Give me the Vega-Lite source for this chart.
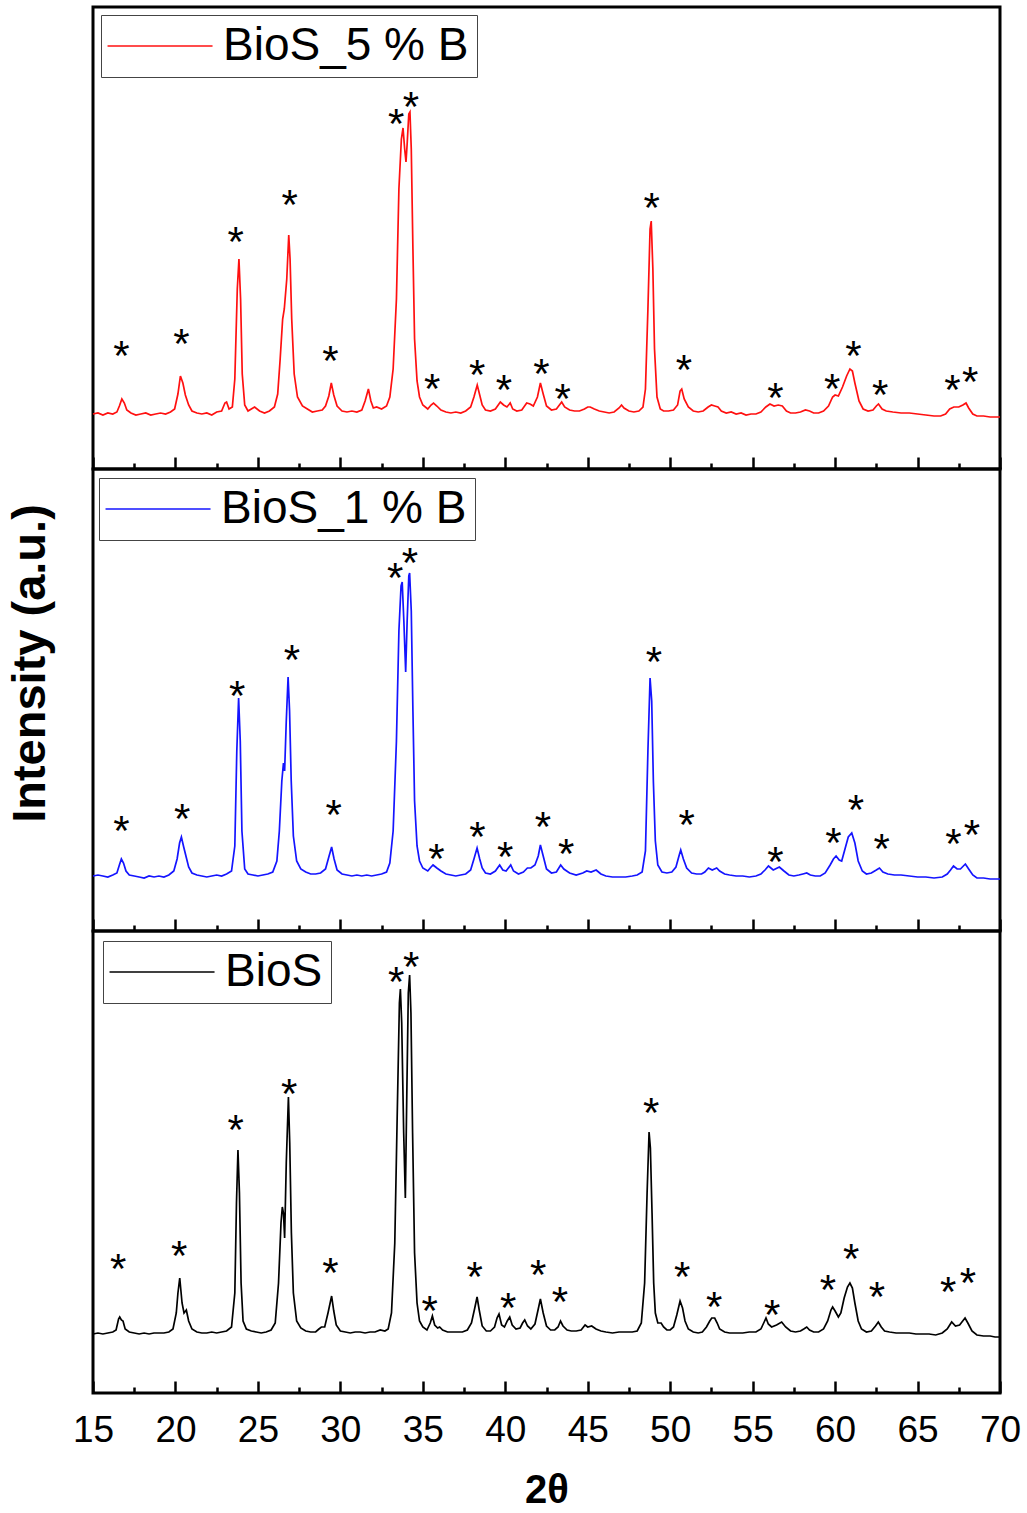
{
  "$schema": "https://vega.github.io/schema/vega-lite/v6.json",
  "background": "white",
  "padding": {"left": 4, "top": 5, "right": 0, "bottom": 0},
  "config": {
    "font": "Liberation Sans",
    "view": {"stroke": "black", "strokeWidth": 3},
    "axis": {"grid": false, "domain": false}
  },
  "columns": 1,
  "spacing": 0,
  "bounds": "flush",
  "align": {"row": "none", "column": "each"},
  "resolve": {"scale": {"color": "independent"}},
  "datasets": {
    "red": [
      {"sample":"BioS_5 % B","angle":15.0,"int":55},{"sample":"BioS_5 % B","angle":15.3,"int":56},{"sample":"BioS_5 % B","angle":15.6,"int":54},{"sample":"BioS_5 % B","angle":15.9,"int":56},{"sample":"BioS_5 % B","angle":16.2,"int":55},{"sample":"BioS_5 % B","angle":16.45,"int":57},{"sample":"BioS_5 % B","angle":16.6,"int":63},{"sample":"BioS_5 % B","angle":16.75,"int":70},{"sample":"BioS_5 % B","angle":16.9,"int":66},{"sample":"BioS_5 % B","angle":17.05,"int":59},{"sample":"BioS_5 % B","angle":17.3,"int":56},{"sample":"BioS_5 % B","angle":17.6,"int":54},{"sample":"BioS_5 % B","angle":17.9,"int":55},{"sample":"BioS_5 % B","angle":18.2,"int":56},{"sample":"BioS_5 % B","angle":18.5,"int":54},{"sample":"BioS_5 % B","angle":18.8,"int":55},{"sample":"BioS_5 % B","angle":19.1,"int":56},{"sample":"BioS_5 % B","angle":19.4,"int":55},{"sample":"BioS_5 % B","angle":19.7,"int":57},{"sample":"BioS_5 % B","angle":19.95,"int":60},{"sample":"BioS_5 % B","angle":20.15,"int":75},{"sample":"BioS_5 % B","angle":20.3,"int":93},{"sample":"BioS_5 % B","angle":20.45,"int":86},{"sample":"BioS_5 % B","angle":20.6,"int":74},{"sample":"BioS_5 % B","angle":20.8,"int":64},{"sample":"BioS_5 % B","angle":21.0,"int":58},{"sample":"BioS_5 % B","angle":21.3,"int":56},{"sample":"BioS_5 % B","angle":21.6,"int":55},{"sample":"BioS_5 % B","angle":21.9,"int":56},{"sample":"BioS_5 % B","angle":22.2,"int":54},{"sample":"BioS_5 % B","angle":22.5,"int":57},{"sample":"BioS_5 % B","angle":22.8,"int":58},{"sample":"BioS_5 % B","angle":23.0,"int":66},{"sample":"BioS_5 % B","angle":23.1,"int":67},{"sample":"BioS_5 % B","angle":23.25,"int":60},{"sample":"BioS_5 % B","angle":23.45,"int":62},{"sample":"BioS_5 % B","angle":23.6,"int":90},{"sample":"BioS_5 % B","angle":23.75,"int":180},{"sample":"BioS_5 % B","angle":23.85,"int":210},{"sample":"BioS_5 % B","angle":23.95,"int":170},{"sample":"BioS_5 % B","angle":24.05,"int":95},{"sample":"BioS_5 % B","angle":24.2,"int":64},{"sample":"BioS_5 % B","angle":24.4,"int":58},{"sample":"BioS_5 % B","angle":24.6,"int":60},{"sample":"BioS_5 % B","angle":24.8,"int":62},{"sample":"BioS_5 % B","angle":25.1,"int":58},{"sample":"BioS_5 % B","angle":25.4,"int":56},{"sample":"BioS_5 % B","angle":25.7,"int":58},{"sample":"BioS_5 % B","angle":26.0,"int":62},{"sample":"BioS_5 % B","angle":26.2,"int":75},{"sample":"BioS_5 % B","angle":26.35,"int":110},{"sample":"BioS_5 % B","angle":26.5,"int":150},{"sample":"BioS_5 % B","angle":26.6,"int":160},{"sample":"BioS_5 % B","angle":26.75,"int":190},{"sample":"BioS_5 % B","angle":26.87,"int":234},{"sample":"BioS_5 % B","angle":26.95,"int":210},{"sample":"BioS_5 % B","angle":27.05,"int":150},{"sample":"BioS_5 % B","angle":27.2,"int":95},{"sample":"BioS_5 % B","angle":27.4,"int":72},{"sample":"BioS_5 % B","angle":27.7,"int":63},{"sample":"BioS_5 % B","angle":28.0,"int":60},{"sample":"BioS_5 % B","angle":28.3,"int":57},{"sample":"BioS_5 % B","angle":28.6,"int":58},{"sample":"BioS_5 % B","angle":28.9,"int":59},{"sample":"BioS_5 % B","angle":29.1,"int":63},{"sample":"BioS_5 % B","angle":29.3,"int":73},{"sample":"BioS_5 % B","angle":29.45,"int":86},{"sample":"BioS_5 % B","angle":29.6,"int":74},{"sample":"BioS_5 % B","angle":29.8,"int":63},{"sample":"BioS_5 % B","angle":30.1,"int":58},{"sample":"BioS_5 % B","angle":30.4,"int":57},{"sample":"BioS_5 % B","angle":30.7,"int":58},{"sample":"BioS_5 % B","angle":31.0,"int":57},{"sample":"BioS_5 % B","angle":31.3,"int":59},{"sample":"BioS_5 % B","angle":31.5,"int":68},{"sample":"BioS_5 % B","angle":31.7,"int":80},{"sample":"BioS_5 % B","angle":31.85,"int":68},{"sample":"BioS_5 % B","angle":32.0,"int":61},{"sample":"BioS_5 % B","angle":32.2,"int":62},{"sample":"BioS_5 % B","angle":32.5,"int":60},{"sample":"BioS_5 % B","angle":32.8,"int":63},{"sample":"BioS_5 % B","angle":33.0,"int":72},{"sample":"BioS_5 % B","angle":33.2,"int":100},{"sample":"BioS_5 % B","angle":33.4,"int":170},{"sample":"BioS_5 % B","angle":33.55,"int":280},{"sample":"BioS_5 % B","angle":33.7,"int":330},{"sample":"BioS_5 % B","angle":33.8,"int":341},{"sample":"BioS_5 % B","angle":33.9,"int":320},{"sample":"BioS_5 % B","angle":33.98,"int":307},{"sample":"BioS_5 % B","angle":34.05,"int":325},{"sample":"BioS_5 % B","angle":34.15,"int":355},{"sample":"BioS_5 % B","angle":34.22,"int":357},{"sample":"BioS_5 % B","angle":34.3,"int":320},{"sample":"BioS_5 % B","angle":34.4,"int":220},{"sample":"BioS_5 % B","angle":34.5,"int":130},{"sample":"BioS_5 % B","angle":34.65,"int":88},{"sample":"BioS_5 % B","angle":34.8,"int":72},{"sample":"BioS_5 % B","angle":35.0,"int":64},{"sample":"BioS_5 % B","angle":35.3,"int":60},{"sample":"BioS_5 % B","angle":35.5,"int":64},{"sample":"BioS_5 % B","angle":35.65,"int":66},{"sample":"BioS_5 % B","angle":35.85,"int":63},{"sample":"BioS_5 % B","angle":36.1,"int":59},{"sample":"BioS_5 % B","angle":36.4,"int":57},{"sample":"BioS_5 % B","angle":36.7,"int":56},{"sample":"BioS_5 % B","angle":37.0,"int":57},{"sample":"BioS_5 % B","angle":37.3,"int":56},{"sample":"BioS_5 % B","angle":37.6,"int":58},{"sample":"BioS_5 % B","angle":37.9,"int":62},{"sample":"BioS_5 % B","angle":38.1,"int":72},{"sample":"BioS_5 % B","angle":38.3,"int":84},{"sample":"BioS_5 % B","angle":38.45,"int":74},{"sample":"BioS_5 % B","angle":38.6,"int":64},{"sample":"BioS_5 % B","angle":38.8,"int":59},{"sample":"BioS_5 % B","angle":39.1,"int":58},{"sample":"BioS_5 % B","angle":39.4,"int":60},{"sample":"BioS_5 % B","angle":39.7,"int":67},{"sample":"BioS_5 % B","angle":39.9,"int":64},{"sample":"BioS_5 % B","angle":40.1,"int":62},{"sample":"BioS_5 % B","angle":40.3,"int":66},{"sample":"BioS_5 % B","angle":40.45,"int":60},{"sample":"BioS_5 % B","angle":40.7,"int":58},{"sample":"BioS_5 % B","angle":41.0,"int":59},{"sample":"BioS_5 % B","angle":41.3,"int":66},{"sample":"BioS_5 % B","angle":41.5,"int":65},{"sample":"BioS_5 % B","angle":41.7,"int":63},{"sample":"BioS_5 % B","angle":41.95,"int":72},{"sample":"BioS_5 % B","angle":42.13,"int":86},{"sample":"BioS_5 % B","angle":42.3,"int":75},{"sample":"BioS_5 % B","angle":42.5,"int":63},{"sample":"BioS_5 % B","angle":42.8,"int":59},{"sample":"BioS_5 % B","angle":43.1,"int":60},{"sample":"BioS_5 % B","angle":43.42,"int":67},{"sample":"BioS_5 % B","angle":43.6,"int":62},{"sample":"BioS_5 % B","angle":43.9,"int":59},{"sample":"BioS_5 % B","angle":44.2,"int":58},{"sample":"BioS_5 % B","angle":44.5,"int":58},{"sample":"BioS_5 % B","angle":44.8,"int":60},{"sample":"BioS_5 % B","angle":45.0,"int":62},{"sample":"BioS_5 % B","angle":45.15,"int":62},{"sample":"BioS_5 % B","angle":45.4,"int":60},{"sample":"BioS_5 % B","angle":45.7,"int":58},{"sample":"BioS_5 % B","angle":46.0,"int":57},{"sample":"BioS_5 % B","angle":46.3,"int":56},{"sample":"BioS_5 % B","angle":46.6,"int":57},{"sample":"BioS_5 % B","angle":46.9,"int":61},{"sample":"BioS_5 % B","angle":47.05,"int":64},{"sample":"BioS_5 % B","angle":47.2,"int":61},{"sample":"BioS_5 % B","angle":47.5,"int":58},{"sample":"BioS_5 % B","angle":47.8,"int":57},{"sample":"BioS_5 % B","angle":48.1,"int":58},{"sample":"BioS_5 % B","angle":48.35,"int":62},{"sample":"BioS_5 % B","angle":48.5,"int":80},{"sample":"BioS_5 % B","angle":48.65,"int":160},{"sample":"BioS_5 % B","angle":48.78,"int":240},{"sample":"BioS_5 % B","angle":48.85,"int":248},{"sample":"BioS_5 % B","angle":48.95,"int":200},{"sample":"BioS_5 % B","angle":49.05,"int":120},{"sample":"BioS_5 % B","angle":49.2,"int":72},{"sample":"BioS_5 % B","angle":49.4,"int":60},{"sample":"BioS_5 % B","angle":49.6,"int":58},{"sample":"BioS_5 % B","angle":49.9,"int":58},{"sample":"BioS_5 % B","angle":50.2,"int":59},{"sample":"BioS_5 % B","angle":50.45,"int":64},{"sample":"BioS_5 % B","angle":50.6,"int":78},{"sample":"BioS_5 % B","angle":50.7,"int":80},{"sample":"BioS_5 % B","angle":50.85,"int":70},{"sample":"BioS_5 % B","angle":51.1,"int":62},{"sample":"BioS_5 % B","angle":51.4,"int":58},{"sample":"BioS_5 % B","angle":51.7,"int":57},{"sample":"BioS_5 % B","angle":52.0,"int":58},{"sample":"BioS_5 % B","angle":52.3,"int":62},{"sample":"BioS_5 % B","angle":52.5,"int":64},{"sample":"BioS_5 % B","angle":52.7,"int":63},{"sample":"BioS_5 % B","angle":52.9,"int":62},{"sample":"BioS_5 % B","angle":53.1,"int":58},{"sample":"BioS_5 % B","angle":53.4,"int":56},{"sample":"BioS_5 % B","angle":53.7,"int":57},{"sample":"BioS_5 % B","angle":54.0,"int":55},{"sample":"BioS_5 % B","angle":54.3,"int":56},{"sample":"BioS_5 % B","angle":54.6,"int":54},{"sample":"BioS_5 % B","angle":54.9,"int":55},{"sample":"BioS_5 % B","angle":55.2,"int":55},{"sample":"BioS_5 % B","angle":55.5,"int":57},{"sample":"BioS_5 % B","angle":55.8,"int":62},{"sample":"BioS_5 % B","angle":56.05,"int":65},{"sample":"BioS_5 % B","angle":56.3,"int":63},{"sample":"BioS_5 % B","angle":56.55,"int":64},{"sample":"BioS_5 % B","angle":56.8,"int":63},{"sample":"BioS_5 % B","angle":57.05,"int":58},{"sample":"BioS_5 % B","angle":57.3,"int":56},{"sample":"BioS_5 % B","angle":57.6,"int":56},{"sample":"BioS_5 % B","angle":57.9,"int":57},{"sample":"BioS_5 % B","angle":58.2,"int":59},{"sample":"BioS_5 % B","angle":58.45,"int":58},{"sample":"BioS_5 % B","angle":58.7,"int":56},{"sample":"BioS_5 % B","angle":59.0,"int":56},{"sample":"BioS_5 % B","angle":59.3,"int":58},{"sample":"BioS_5 % B","angle":59.6,"int":63},{"sample":"BioS_5 % B","angle":59.85,"int":72},{"sample":"BioS_5 % B","angle":60.0,"int":74},{"sample":"BioS_5 % B","angle":60.2,"int":73},{"sample":"BioS_5 % B","angle":60.45,"int":82},{"sample":"BioS_5 % B","angle":60.7,"int":93},{"sample":"BioS_5 % B","angle":60.9,"int":100},{"sample":"BioS_5 % B","angle":61.05,"int":98},{"sample":"BioS_5 % B","angle":61.2,"int":86},{"sample":"BioS_5 % B","angle":61.45,"int":68},{"sample":"BioS_5 % B","angle":61.7,"int":60},{"sample":"BioS_5 % B","angle":62.0,"int":58},{"sample":"BioS_5 % B","angle":62.3,"int":59},{"sample":"BioS_5 % B","angle":62.5,"int":63},{"sample":"BioS_5 % B","angle":62.63,"int":65},{"sample":"BioS_5 % B","angle":62.85,"int":60},{"sample":"BioS_5 % B","angle":63.1,"int":58},{"sample":"BioS_5 % B","angle":63.5,"int":57},{"sample":"BioS_5 % B","angle":64.0,"int":56},{"sample":"BioS_5 % B","angle":64.5,"int":56},{"sample":"BioS_5 % B","angle":65.0,"int":55},{"sample":"BioS_5 % B","angle":65.5,"int":54},{"sample":"BioS_5 % B","angle":66.0,"int":53},{"sample":"BioS_5 % B","angle":66.4,"int":53},{"sample":"BioS_5 % B","angle":66.7,"int":55},{"sample":"BioS_5 % B","angle":66.95,"int":60},{"sample":"BioS_5 % B","angle":67.2,"int":62},{"sample":"BioS_5 % B","angle":67.5,"int":62},{"sample":"BioS_5 % B","angle":67.75,"int":64},{"sample":"BioS_5 % B","angle":67.94,"int":66},{"sample":"BioS_5 % B","angle":68.1,"int":61},{"sample":"BioS_5 % B","angle":68.35,"int":55},{"sample":"BioS_5 % B","angle":68.6,"int":53},{"sample":"BioS_5 % B","angle":69.0,"int":53},{"sample":"BioS_5 % B","angle":69.4,"int":52},{"sample":"BioS_5 % B","angle":69.7,"int":52},{"sample":"BioS_5 % B","angle":70.0,"int":52}
    ],
    "blue": [
      {"sample":"BioS_1 % B","angle":15.0,"int":55},{"sample":"BioS_1 % B","angle":15.3,"int":56},{"sample":"BioS_1 % B","angle":15.6,"int":55},{"sample":"BioS_1 % B","angle":15.9,"int":54},{"sample":"BioS_1 % B","angle":16.2,"int":56},{"sample":"BioS_1 % B","angle":16.45,"int":58},{"sample":"BioS_1 % B","angle":16.6,"int":66},{"sample":"BioS_1 % B","angle":16.72,"int":72},{"sample":"BioS_1 % B","angle":16.85,"int":68},{"sample":"BioS_1 % B","angle":17.0,"int":60},{"sample":"BioS_1 % B","angle":17.2,"int":56},{"sample":"BioS_1 % B","angle":17.5,"int":55},{"sample":"BioS_1 % B","angle":17.8,"int":54},{"sample":"BioS_1 % B","angle":18.1,"int":53},{"sample":"BioS_1 % B","angle":18.4,"int":55},{"sample":"BioS_1 % B","angle":18.7,"int":54},{"sample":"BioS_1 % B","angle":19.0,"int":55},{"sample":"BioS_1 % B","angle":19.3,"int":54},{"sample":"BioS_1 % B","angle":19.6,"int":56},{"sample":"BioS_1 % B","angle":19.9,"int":60},{"sample":"BioS_1 % B","angle":20.1,"int":72},{"sample":"BioS_1 % B","angle":20.25,"int":88},{"sample":"BioS_1 % B","angle":20.36,"int":94},{"sample":"BioS_1 % B","angle":20.5,"int":84},{"sample":"BioS_1 % B","angle":20.65,"int":74},{"sample":"BioS_1 % B","angle":20.8,"int":64},{"sample":"BioS_1 % B","angle":21.0,"int":58},{"sample":"BioS_1 % B","angle":21.3,"int":56},{"sample":"BioS_1 % B","angle":21.6,"int":55},{"sample":"BioS_1 % B","angle":21.9,"int":54},{"sample":"BioS_1 % B","angle":22.2,"int":55},{"sample":"BioS_1 % B","angle":22.5,"int":56},{"sample":"BioS_1 % B","angle":22.8,"int":55},{"sample":"BioS_1 % B","angle":23.1,"int":57},{"sample":"BioS_1 % B","angle":23.4,"int":60},{"sample":"BioS_1 % B","angle":23.6,"int":85},{"sample":"BioS_1 % B","angle":23.72,"int":180},{"sample":"BioS_1 % B","angle":23.83,"int":233},{"sample":"BioS_1 % B","angle":23.93,"int":190},{"sample":"BioS_1 % B","angle":24.03,"int":100},{"sample":"BioS_1 % B","angle":24.2,"int":62},{"sample":"BioS_1 % B","angle":24.4,"int":57},{"sample":"BioS_1 % B","angle":24.7,"int":56},{"sample":"BioS_1 % B","angle":25.0,"int":55},{"sample":"BioS_1 % B","angle":25.3,"int":56},{"sample":"BioS_1 % B","angle":25.6,"int":57},{"sample":"BioS_1 % B","angle":25.9,"int":59},{"sample":"BioS_1 % B","angle":26.15,"int":70},{"sample":"BioS_1 % B","angle":26.3,"int":100},{"sample":"BioS_1 % B","angle":26.45,"int":150},{"sample":"BioS_1 % B","angle":26.55,"int":168},{"sample":"BioS_1 % B","angle":26.62,"int":160},{"sample":"BioS_1 % B","angle":26.72,"int":210},{"sample":"BioS_1 % B","angle":26.83,"int":254},{"sample":"BioS_1 % B","angle":26.92,"int":220},{"sample":"BioS_1 % B","angle":27.02,"int":150},{"sample":"BioS_1 % B","angle":27.15,"int":95},{"sample":"BioS_1 % B","angle":27.35,"int":70},{"sample":"BioS_1 % B","angle":27.6,"int":62},{"sample":"BioS_1 % B","angle":27.9,"int":59},{"sample":"BioS_1 % B","angle":28.2,"int":57},{"sample":"BioS_1 % B","angle":28.5,"int":57},{"sample":"BioS_1 % B","angle":28.8,"int":58},{"sample":"BioS_1 % B","angle":29.1,"int":62},{"sample":"BioS_1 % B","angle":29.3,"int":74},{"sample":"BioS_1 % B","angle":29.47,"int":84},{"sample":"BioS_1 % B","angle":29.62,"int":72},{"sample":"BioS_1 % B","angle":29.8,"int":61},{"sample":"BioS_1 % B","angle":30.1,"int":57},{"sample":"BioS_1 % B","angle":30.4,"int":56},{"sample":"BioS_1 % B","angle":30.7,"int":55},{"sample":"BioS_1 % B","angle":31.0,"int":56},{"sample":"BioS_1 % B","angle":31.3,"int":55},{"sample":"BioS_1 % B","angle":31.6,"int":56},{"sample":"BioS_1 % B","angle":31.9,"int":55},{"sample":"BioS_1 % B","angle":32.2,"int":56},{"sample":"BioS_1 % B","angle":32.5,"int":57},{"sample":"BioS_1 % B","angle":32.8,"int":59},{"sample":"BioS_1 % B","angle":33.0,"int":68},{"sample":"BioS_1 % B","angle":33.2,"int":100},{"sample":"BioS_1 % B","angle":33.4,"int":190},{"sample":"BioS_1 % B","angle":33.55,"int":300},{"sample":"BioS_1 % B","angle":33.68,"int":345},{"sample":"BioS_1 % B","angle":33.75,"int":349},{"sample":"BioS_1 % B","angle":33.85,"int":310},{"sample":"BioS_1 % B","angle":33.96,"int":259},{"sample":"BioS_1 % B","angle":34.05,"int":310},{"sample":"BioS_1 % B","angle":34.15,"int":355},{"sample":"BioS_1 % B","angle":34.2,"int":358},{"sample":"BioS_1 % B","angle":34.3,"int":320},{"sample":"BioS_1 % B","angle":34.4,"int":220},{"sample":"BioS_1 % B","angle":34.5,"int":130},{"sample":"BioS_1 % B","angle":34.65,"int":85},{"sample":"BioS_1 % B","angle":34.8,"int":70},{"sample":"BioS_1 % B","angle":35.0,"int":63},{"sample":"BioS_1 % B","angle":35.3,"int":60},{"sample":"BioS_1 % B","angle":35.5,"int":64},{"sample":"BioS_1 % B","angle":35.62,"int":66},{"sample":"BioS_1 % B","angle":35.85,"int":63},{"sample":"BioS_1 % B","angle":36.1,"int":60},{"sample":"BioS_1 % B","angle":36.4,"int":57},{"sample":"BioS_1 % B","angle":36.7,"int":56},{"sample":"BioS_1 % B","angle":37.0,"int":55},{"sample":"BioS_1 % B","angle":37.3,"int":56},{"sample":"BioS_1 % B","angle":37.6,"int":57},{"sample":"BioS_1 % B","angle":37.9,"int":61},{"sample":"BioS_1 % B","angle":38.1,"int":72},{"sample":"BioS_1 % B","angle":38.29,"int":83},{"sample":"BioS_1 % B","angle":38.45,"int":72},{"sample":"BioS_1 % B","angle":38.6,"int":63},{"sample":"BioS_1 % B","angle":38.8,"int":58},{"sample":"BioS_1 % B","angle":39.1,"int":57},{"sample":"BioS_1 % B","angle":39.4,"int":60},{"sample":"BioS_1 % B","angle":39.66,"int":66},{"sample":"BioS_1 % B","angle":39.85,"int":61},{"sample":"BioS_1 % B","angle":40.05,"int":60},{"sample":"BioS_1 % B","angle":40.33,"int":66},{"sample":"BioS_1 % B","angle":40.5,"int":60},{"sample":"BioS_1 % B","angle":40.8,"int":57},{"sample":"BioS_1 % B","angle":41.1,"int":59},{"sample":"BioS_1 % B","angle":41.34,"int":63},{"sample":"BioS_1 % B","angle":41.55,"int":63},{"sample":"BioS_1 % B","angle":41.8,"int":66},{"sample":"BioS_1 % B","angle":42.0,"int":75},{"sample":"BioS_1 % B","angle":42.13,"int":86},{"sample":"BioS_1 % B","angle":42.3,"int":75},{"sample":"BioS_1 % B","angle":42.5,"int":62},{"sample":"BioS_1 % B","angle":42.8,"int":58},{"sample":"BioS_1 % B","angle":43.1,"int":59},{"sample":"BioS_1 % B","angle":43.36,"int":66},{"sample":"BioS_1 % B","angle":43.55,"int":62},{"sample":"BioS_1 % B","angle":43.9,"int":58},{"sample":"BioS_1 % B","angle":44.3,"int":56},{"sample":"BioS_1 % B","angle":44.7,"int":58},{"sample":"BioS_1 % B","angle":44.94,"int":60},{"sample":"BioS_1 % B","angle":45.2,"int":59},{"sample":"BioS_1 % B","angle":45.51,"int":61},{"sample":"BioS_1 % B","angle":45.8,"int":57},{"sample":"BioS_1 % B","angle":46.1,"int":55},{"sample":"BioS_1 % B","angle":46.5,"int":54},{"sample":"BioS_1 % B","angle":46.9,"int":54},{"sample":"BioS_1 % B","angle":47.3,"int":54},{"sample":"BioS_1 % B","angle":47.7,"int":55},{"sample":"BioS_1 % B","angle":48.0,"int":56},{"sample":"BioS_1 % B","angle":48.3,"int":59},{"sample":"BioS_1 % B","angle":48.5,"int":80},{"sample":"BioS_1 % B","angle":48.65,"int":180},{"sample":"BioS_1 % B","angle":48.78,"int":253},{"sample":"BioS_1 % B","angle":48.88,"int":230},{"sample":"BioS_1 % B","angle":48.98,"int":150},{"sample":"BioS_1 % B","angle":49.1,"int":90},{"sample":"BioS_1 % B","angle":49.25,"int":66},{"sample":"BioS_1 % B","angle":49.5,"int":59},{"sample":"BioS_1 % B","angle":49.8,"int":58},{"sample":"BioS_1 % B","angle":50.1,"int":59},{"sample":"BioS_1 % B","angle":50.35,"int":64},{"sample":"BioS_1 % B","angle":50.55,"int":76},{"sample":"BioS_1 % B","angle":50.64,"int":81},{"sample":"BioS_1 % B","angle":50.8,"int":72},{"sample":"BioS_1 % B","angle":51.0,"int":63},{"sample":"BioS_1 % B","angle":51.3,"int":58},{"sample":"BioS_1 % B","angle":51.6,"int":57},{"sample":"BioS_1 % B","angle":51.9,"int":57},{"sample":"BioS_1 % B","angle":52.1,"int":59},{"sample":"BioS_1 % B","angle":52.32,"int":63},{"sample":"BioS_1 % B","angle":52.55,"int":61},{"sample":"BioS_1 % B","angle":52.82,"int":63},{"sample":"BioS_1 % B","angle":53.0,"int":60},{"sample":"BioS_1 % B","angle":53.3,"int":57},{"sample":"BioS_1 % B","angle":53.6,"int":56},{"sample":"BioS_1 % B","angle":54.0,"int":55},{"sample":"BioS_1 % B","angle":54.4,"int":55},{"sample":"BioS_1 % B","angle":54.8,"int":54},{"sample":"BioS_1 % B","angle":55.2,"int":55},{"sample":"BioS_1 % B","angle":55.5,"int":57},{"sample":"BioS_1 % B","angle":55.75,"int":61},{"sample":"BioS_1 % B","angle":55.96,"int":65},{"sample":"BioS_1 % B","angle":56.25,"int":61},{"sample":"BioS_1 % B","angle":56.62,"int":64},{"sample":"BioS_1 % B","angle":56.9,"int":60},{"sample":"BioS_1 % B","angle":57.2,"int":56},{"sample":"BioS_1 % B","angle":57.5,"int":55},{"sample":"BioS_1 % B","angle":57.8,"int":56},{"sample":"BioS_1 % B","angle":58.05,"int":57},{"sample":"BioS_1 % B","angle":58.28,"int":58},{"sample":"BioS_1 % B","angle":58.5,"int":56},{"sample":"BioS_1 % B","angle":58.8,"int":55},{"sample":"BioS_1 % B","angle":59.1,"int":55},{"sample":"BioS_1 % B","angle":59.4,"int":58},{"sample":"BioS_1 % B","angle":59.7,"int":66},{"sample":"BioS_1 % B","angle":59.9,"int":72},{"sample":"BioS_1 % B","angle":60.06,"int":75},{"sample":"BioS_1 % B","angle":60.25,"int":71},{"sample":"BioS_1 % B","angle":60.4,"int":70},{"sample":"BioS_1 % B","angle":60.6,"int":82},{"sample":"BioS_1 % B","angle":60.8,"int":94},{"sample":"BioS_1 % B","angle":61.01,"int":98},{"sample":"BioS_1 % B","angle":61.2,"int":88},{"sample":"BioS_1 % B","angle":61.4,"int":70},{"sample":"BioS_1 % B","angle":61.65,"int":60},{"sample":"BioS_1 % B","angle":61.9,"int":57},{"sample":"BioS_1 % B","angle":62.2,"int":58},{"sample":"BioS_1 % B","angle":62.5,"int":61},{"sample":"BioS_1 % B","angle":62.69,"int":63},{"sample":"BioS_1 % B","angle":62.9,"int":59},{"sample":"BioS_1 % B","angle":63.2,"int":57},{"sample":"BioS_1 % B","angle":63.6,"int":56},{"sample":"BioS_1 % B","angle":64.0,"int":56},{"sample":"BioS_1 % B","angle":64.5,"int":55},{"sample":"BioS_1 % B","angle":65.0,"int":54},{"sample":"BioS_1 % B","angle":65.5,"int":54},{"sample":"BioS_1 % B","angle":66.0,"int":53},{"sample":"BioS_1 % B","angle":66.5,"int":54},{"sample":"BioS_1 % B","angle":66.8,"int":57},{"sample":"BioS_1 % B","angle":67.0,"int":61},{"sample":"BioS_1 % B","angle":67.18,"int":65},{"sample":"BioS_1 % B","angle":67.4,"int":62},{"sample":"BioS_1 % B","angle":67.6,"int":62},{"sample":"BioS_1 % B","angle":67.9,"int":67},{"sample":"BioS_1 % B","angle":68.1,"int":62},{"sample":"BioS_1 % B","angle":68.35,"int":56},{"sample":"BioS_1 % B","angle":68.6,"int":53},{"sample":"BioS_1 % B","angle":69.0,"int":53},{"sample":"BioS_1 % B","angle":69.4,"int":52},{"sample":"BioS_1 % B","angle":69.7,"int":52},{"sample":"BioS_1 % B","angle":70.0,"int":52}
    ],
    "black": [
      {"sample":"BioS","angle":15.0,"int":59},{"sample":"BioS","angle":15.3,"int":60},{"sample":"BioS","angle":15.6,"int":59},{"sample":"BioS","angle":15.9,"int":60},{"sample":"BioS","angle":16.2,"int":61},{"sample":"BioS","angle":16.4,"int":63},{"sample":"BioS","angle":16.55,"int":74},{"sample":"BioS","angle":16.62,"int":76},{"sample":"BioS","angle":16.72,"int":73},{"sample":"BioS","angle":16.82,"int":72},{"sample":"BioS","angle":16.95,"int":64},{"sample":"BioS","angle":17.2,"int":61},{"sample":"BioS","angle":17.5,"int":60},{"sample":"BioS","angle":17.8,"int":59},{"sample":"BioS","angle":18.1,"int":60},{"sample":"BioS","angle":18.4,"int":59},{"sample":"BioS","angle":18.7,"int":60},{"sample":"BioS","angle":19.0,"int":60},{"sample":"BioS","angle":19.3,"int":60},{"sample":"BioS","angle":19.6,"int":61},{"sample":"BioS","angle":19.85,"int":64},{"sample":"BioS","angle":20.05,"int":80},{"sample":"BioS","angle":20.15,"int":100},{"sample":"BioS","angle":20.26,"int":115},{"sample":"BioS","angle":20.4,"int":90},{"sample":"BioS","angle":20.52,"int":80},{"sample":"BioS","angle":20.66,"int":83},{"sample":"BioS","angle":20.8,"int":72},{"sample":"BioS","angle":21.0,"int":64},{"sample":"BioS","angle":21.3,"int":61},{"sample":"BioS","angle":21.6,"int":60},{"sample":"BioS","angle":21.9,"int":60},{"sample":"BioS","angle":22.2,"int":61},{"sample":"BioS","angle":22.5,"int":60},{"sample":"BioS","angle":22.8,"int":61},{"sample":"BioS","angle":23.1,"int":62},{"sample":"BioS","angle":23.4,"int":66},{"sample":"BioS","angle":23.6,"int":100},{"sample":"BioS","angle":23.7,"int":190},{"sample":"BioS","angle":23.79,"int":243},{"sample":"BioS","angle":23.88,"int":200},{"sample":"BioS","angle":23.98,"int":110},{"sample":"BioS","angle":24.1,"int":72},{"sample":"BioS","angle":24.3,"int":64},{"sample":"BioS","angle":24.6,"int":62},{"sample":"BioS","angle":24.9,"int":61},{"sample":"BioS","angle":25.2,"int":60},{"sample":"BioS","angle":25.5,"int":61},{"sample":"BioS","angle":25.8,"int":63},{"sample":"BioS","angle":26.05,"int":70},{"sample":"BioS","angle":26.25,"int":110},{"sample":"BioS","angle":26.4,"int":170},{"sample":"BioS","angle":26.48,"int":186},{"sample":"BioS","angle":26.55,"int":180},{"sample":"BioS","angle":26.62,"int":155},{"sample":"BioS","angle":26.72,"int":230},{"sample":"BioS","angle":26.85,"int":296},{"sample":"BioS","angle":26.93,"int":250},{"sample":"BioS","angle":27.03,"int":160},{"sample":"BioS","angle":27.15,"int":100},{"sample":"BioS","angle":27.35,"int":72},{"sample":"BioS","angle":27.6,"int":65},{"sample":"BioS","angle":27.9,"int":62},{"sample":"BioS","angle":28.2,"int":61},{"sample":"BioS","angle":28.5,"int":61},{"sample":"BioS","angle":28.7,"int":64},{"sample":"BioS","angle":28.85,"int":66},{"sample":"BioS","angle":29.05,"int":66},{"sample":"BioS","angle":29.25,"int":80},{"sample":"BioS","angle":29.47,"int":97},{"sample":"BioS","angle":29.6,"int":82},{"sample":"BioS","angle":29.75,"int":68},{"sample":"BioS","angle":30.0,"int":62},{"sample":"BioS","angle":30.3,"int":61},{"sample":"BioS","angle":30.6,"int":60},{"sample":"BioS","angle":30.9,"int":61},{"sample":"BioS","angle":31.2,"int":61},{"sample":"BioS","angle":31.5,"int":60},{"sample":"BioS","angle":31.8,"int":61},{"sample":"BioS","angle":32.1,"int":61},{"sample":"BioS","angle":32.42,"int":63},{"sample":"BioS","angle":32.7,"int":62},{"sample":"BioS","angle":32.9,"int":64},{"sample":"BioS","angle":33.1,"int":80},{"sample":"BioS","angle":33.3,"int":150},{"sample":"BioS","angle":33.45,"int":280},{"sample":"BioS","angle":33.58,"int":390},{"sample":"BioS","angle":33.64,"int":404},{"sample":"BioS","angle":33.72,"int":370},{"sample":"BioS","angle":33.84,"int":260},{"sample":"BioS","angle":33.94,"int":195},{"sample":"BioS","angle":34.03,"int":300},{"sample":"BioS","angle":34.12,"int":400},{"sample":"BioS","angle":34.2,"int":418},{"sample":"BioS","angle":34.28,"int":380},{"sample":"BioS","angle":34.38,"int":260},{"sample":"BioS","angle":34.5,"int":140},{"sample":"BioS","angle":34.65,"int":90},{"sample":"BioS","angle":34.8,"int":72},{"sample":"BioS","angle":35.0,"int":66},{"sample":"BioS","angle":35.25,"int":63},{"sample":"BioS","angle":35.45,"int":70},{"sample":"BioS","angle":35.58,"int":77},{"sample":"BioS","angle":35.72,"int":68},{"sample":"BioS","angle":35.9,"int":65},{"sample":"BioS","angle":36.02,"int":66},{"sample":"BioS","angle":36.2,"int":63},{"sample":"BioS","angle":36.5,"int":61},{"sample":"BioS","angle":36.8,"int":61},{"sample":"BioS","angle":37.1,"int":61},{"sample":"BioS","angle":37.4,"int":61},{"sample":"BioS","angle":37.7,"int":63},{"sample":"BioS","angle":37.95,"int":70},{"sample":"BioS","angle":38.15,"int":85},{"sample":"BioS","angle":38.29,"int":96},{"sample":"BioS","angle":38.42,"int":83},{"sample":"BioS","angle":38.6,"int":67},{"sample":"BioS","angle":38.85,"int":62},{"sample":"BioS","angle":39.1,"int":62},{"sample":"BioS","angle":39.35,"int":66},{"sample":"BioS","angle":39.5,"int":75},{"sample":"BioS","angle":39.62,"int":79},{"sample":"BioS","angle":39.78,"int":68},{"sample":"BioS","angle":39.95,"int":66},{"sample":"BioS","angle":40.12,"int":72},{"sample":"BioS","angle":40.27,"int":76},{"sample":"BioS","angle":40.42,"int":68},{"sample":"BioS","angle":40.65,"int":64},{"sample":"BioS","angle":40.9,"int":65},{"sample":"BioS","angle":41.05,"int":70},{"sample":"BioS","angle":41.18,"int":73},{"sample":"BioS","angle":41.35,"int":67},{"sample":"BioS","angle":41.55,"int":64},{"sample":"BioS","angle":41.8,"int":69},{"sample":"BioS","angle":42.0,"int":84},{"sample":"BioS","angle":42.13,"int":94},{"sample":"BioS","angle":42.3,"int":80},{"sample":"BioS","angle":42.5,"int":67},{"sample":"BioS","angle":42.75,"int":63},{"sample":"BioS","angle":43.0,"int":63},{"sample":"BioS","angle":43.2,"int":66},{"sample":"BioS","angle":43.35,"int":72},{"sample":"BioS","angle":43.5,"int":67},{"sample":"BioS","angle":43.75,"int":63},{"sample":"BioS","angle":44.0,"int":62},{"sample":"BioS","angle":44.3,"int":62},{"sample":"BioS","angle":44.6,"int":63},{"sample":"BioS","angle":44.84,"int":68},{"sample":"BioS","angle":45.0,"int":66},{"sample":"BioS","angle":45.24,"int":67},{"sample":"BioS","angle":45.5,"int":64},{"sample":"BioS","angle":45.8,"int":62},{"sample":"BioS","angle":46.1,"int":61},{"sample":"BioS","angle":46.5,"int":60},{"sample":"BioS","angle":46.9,"int":61},{"sample":"BioS","angle":47.3,"int":61},{"sample":"BioS","angle":47.7,"int":61},{"sample":"BioS","angle":48.0,"int":62},{"sample":"BioS","angle":48.25,"int":70},{"sample":"BioS","angle":48.45,"int":110},{"sample":"BioS","angle":48.6,"int":200},{"sample":"BioS","angle":48.72,"int":261},{"sample":"BioS","angle":48.8,"int":245},{"sample":"BioS","angle":48.9,"int":180},{"sample":"BioS","angle":49.0,"int":110},{"sample":"BioS","angle":49.1,"int":80},{"sample":"BioS","angle":49.25,"int":70},{"sample":"BioS","angle":49.45,"int":70},{"sample":"BioS","angle":49.6,"int":66},{"sample":"BioS","angle":49.8,"int":63},{"sample":"BioS","angle":50.0,"int":63},{"sample":"BioS","angle":50.2,"int":66},{"sample":"BioS","angle":50.4,"int":78},{"sample":"BioS","angle":50.6,"int":92},{"sample":"BioS","angle":50.75,"int":85},{"sample":"BioS","angle":50.9,"int":72},{"sample":"BioS","angle":51.1,"int":64},{"sample":"BioS","angle":51.4,"int":61},{"sample":"BioS","angle":51.7,"int":60},{"sample":"BioS","angle":51.95,"int":61},{"sample":"BioS","angle":52.2,"int":66},{"sample":"BioS","angle":52.4,"int":72},{"sample":"BioS","angle":52.52,"int":75},{"sample":"BioS","angle":52.7,"int":75},{"sample":"BioS","angle":52.85,"int":70},{"sample":"BioS","angle":53.0,"int":64},{"sample":"BioS","angle":53.3,"int":61},{"sample":"BioS","angle":53.6,"int":60},{"sample":"BioS","angle":54.0,"int":60},{"sample":"BioS","angle":54.4,"int":60},{"sample":"BioS","angle":54.8,"int":61},{"sample":"BioS","angle":55.2,"int":61},{"sample":"BioS","angle":55.5,"int":64},{"sample":"BioS","angle":55.7,"int":71},{"sample":"BioS","angle":55.81,"int":75},{"sample":"BioS","angle":55.95,"int":69},{"sample":"BioS","angle":56.15,"int":66},{"sample":"BioS","angle":56.45,"int":68},{"sample":"BioS","angle":56.76,"int":71},{"sample":"BioS","angle":57.0,"int":66},{"sample":"BioS","angle":57.3,"int":62},{"sample":"BioS","angle":57.6,"int":61},{"sample":"BioS","angle":57.9,"int":62},{"sample":"BioS","angle":58.1,"int":64},{"sample":"BioS","angle":58.28,"int":66},{"sample":"BioS","angle":58.45,"int":63},{"sample":"BioS","angle":58.7,"int":61},{"sample":"BioS","angle":59.0,"int":61},{"sample":"BioS","angle":59.3,"int":64},{"sample":"BioS","angle":59.55,"int":72},{"sample":"BioS","angle":59.75,"int":83},{"sample":"BioS","angle":59.85,"int":86},{"sample":"BioS","angle":60.0,"int":82},{"sample":"BioS","angle":60.2,"int":76},{"sample":"BioS","angle":60.35,"int":80},{"sample":"BioS","angle":60.55,"int":95},{"sample":"BioS","angle":60.75,"int":106},{"sample":"BioS","angle":60.9,"int":110},{"sample":"BioS","angle":61.05,"int":105},{"sample":"BioS","angle":61.2,"int":90},{"sample":"BioS","angle":61.4,"int":72},{"sample":"BioS","angle":61.6,"int":64},{"sample":"BioS","angle":61.9,"int":61},{"sample":"BioS","angle":62.2,"int":62},{"sample":"BioS","angle":62.45,"int":67},{"sample":"BioS","angle":62.62,"int":71},{"sample":"BioS","angle":62.8,"int":66},{"sample":"BioS","angle":63.0,"int":62},{"sample":"BioS","angle":63.3,"int":61},{"sample":"BioS","angle":63.7,"int":60},{"sample":"BioS","angle":64.1,"int":60},{"sample":"BioS","angle":64.5,"int":60},{"sample":"BioS","angle":64.9,"int":59},{"sample":"BioS","angle":65.3,"int":59},{"sample":"BioS","angle":65.7,"int":59},{"sample":"BioS","angle":66.1,"int":58},{"sample":"BioS","angle":66.5,"int":60},{"sample":"BioS","angle":66.8,"int":64},{"sample":"BioS","angle":67.07,"int":71},{"sample":"BioS","angle":67.3,"int":67},{"sample":"BioS","angle":67.55,"int":68},{"sample":"BioS","angle":67.88,"int":75},{"sample":"BioS","angle":68.05,"int":70},{"sample":"BioS","angle":68.3,"int":62},{"sample":"BioS","angle":68.6,"int":58},{"sample":"BioS","angle":69.0,"int":57},{"sample":"BioS","angle":69.4,"int":57},{"sample":"BioS","angle":69.7,"int":56},{"sample":"BioS","angle":70.0,"int":56}
    ],
    "starsTop": [
      {"angle":16.72,"int":120},{"angle":20.36,"int":132},{"angle":23.65,"int":234},{"angle":26.93,"int":271},{"angle":29.39,"int":115},{"angle":33.39,"int":352},{"angle":34.28,"int":369},{"angle":35.56,"int":87},{"angle":38.29,"int":101},{"angle":39.92,"int":86},{"angle":42.19,"int":102},{"angle":43.48,"int":77},{"angle":48.88,"int":268},{"angle":50.84,"int":106},{"angle":56.38,"int":78},{"angle":59.82,"int":87},{"angle":61.11,"int":120},{"angle":62.73,"int":81},{"angle":67.11,"int":86},{"angle":68.19,"int":94}
    ],
    "starsMid": [
      {"angle":16.72,"int":107},{"angle":20.4,"int":119},{"angle":23.75,"int":242},{"angle":27.07,"int":278},{"angle":29.59,"int":123},{"angle":33.33,"int":360},{"angle":34.22,"int":375},{"angle":35.82,"int":79},{"angle":38.31,"int":101},{"angle":40.0,"int":81},{"angle":42.29,"int":111},{"angle":43.69,"int":84},{"angle":49.02,"int":276},{"angle":51.0,"int":113},{"angle":56.38,"int":76},{"angle":59.9,"int":95},{"angle":61.27,"int":128},{"angle":62.83,"int":89},{"angle":67.18,"int":94},{"angle":68.29,"int":103}
    ],
    "starsBot": [
      {"angle":16.52,"int":131},{"angle":20.22,"int":144},{"angle":23.65,"int":270},{"angle":26.89,"int":306},{"angle":29.39,"int":127},{"angle":33.39,"int":418},{"angle":34.3,"int":433},{"angle":35.42,"int":89},{"angle":38.15,"int":123},{"angle":40.17,"int":92},{"angle":41.99,"int":125},{"angle":43.32,"int":98},{"angle":48.84,"int":287},{"angle":50.72,"int":123},{"angle":52.66,"int":93},{"angle":56.18,"int":85},{"angle":59.57,"int":110},{"angle":60.97,"int":141},{"angle":62.54,"int":103},{"angle":66.85,"int":108},{"angle":68.06,"int":117}
    ]
  },
  "concat": [
    {
      "width": 907,
      "height": 462,
      "layer": [
        {
          "data": {"name": "red"},
          "mark": {"type": "line", "strokeWidth": 1.7},
          "encoding": {
            "x": {"field": "angle", "type": "quantitative", "scale": {"domain": [15, 70], "nice": false},
              "axis": {"values": [15,17.5,20,22.5,25,27.5,30,32.5,35,37.5,40,42.5,45,47.5,50,52.5,55,57.5,60,62.5,65,67.5,70],
                "labels": false, "title": null, "domain": false, "tickColor": "black", "tickWidth": 2.5,
                "tickSize": {"condition": {"test": "datum.value % 5 === 0", "value": -12}, "value": -6}}},
            "y": {"field": "int", "type": "quantitative", "scale": {"domain": [0, 462], "nice": false}, "axis": null},
            "color": {"field": "sample", "type": "nominal", "scale": {"domain": ["BioS_5 % B"], "range": ["#ff1010"]},
              "legend": {"orient": "none", "legendX": 8, "legendY": 8, "title": null, "symbolType": "M-2.33,0H7.67", "symbolSize": 441,
                "symbolStrokeWidth": 1.5, "labelFontSize": 46, "labelFont": "Liberation Sans", "labelColor": "black", "labelOffset": 68,
                "labelLimit": 600, "padding": 8, "strokeColor": "#444444", "fillColor": "white"}}
          }
        },
        {
          "data": {"name": "starsTop"},
          "mark": {"type": "text", "text": "*", "fontSize": 42, "dy": 8, "color": "black"},
          "encoding": {
            "x": {"field": "angle", "type": "quantitative"},
            "y": {"field": "int", "type": "quantitative"}
          }
        }
      ]
    },
    {
      "width": 907,
      "height": 462,
      "layer": [
        {
          "data": {"name": "blue"},
          "mark": {"type": "line", "strokeWidth": 1.7},
          "encoding": {
            "x": {"field": "angle", "type": "quantitative", "scale": {"domain": [15, 70], "nice": false},
              "axis": {"values": [15,17.5,20,22.5,25,27.5,30,32.5,35,37.5,40,42.5,45,47.5,50,52.5,55,57.5,60,62.5,65,67.5,70],
                "labels": false, "title": null, "domain": false, "tickColor": "black", "tickWidth": 2.5,
                "tickSize": {"condition": {"test": "datum.value % 5 === 0", "value": -12}, "value": -6}}},
            "y": {"field": "int", "type": "quantitative", "scale": {"domain": [0, 462], "nice": false},
              "axis": {"labels": false, "ticks": false, "domain": false, "title": "Intensity (a.u.)", "titleFontSize": 47,
                "titleFontWeight": "bold", "titleColor": "black", "titleX": -63, "titleY": 194, "titleAlign": "center",
                "titleBaseline": "middle", "titleAngle": -90}},
            "color": {"field": "sample", "type": "nominal", "scale": {"domain": ["BioS_1 % B"], "range": ["#1414ff"]},
              "legend": {"orient": "none", "legendX": 6, "legendY": 9, "title": null, "symbolType": "M-2.33,0H7.67", "symbolSize": 441,
                "symbolStrokeWidth": 1.5, "labelFontSize": 46, "labelFont": "Liberation Sans", "labelColor": "black", "labelOffset": 68,
                "labelLimit": 600, "padding": 8, "strokeColor": "#444444", "fillColor": "white"}}
          }
        },
        {
          "data": {"name": "starsMid"},
          "mark": {"type": "text", "text": "*", "fontSize": 42, "dy": 8, "color": "black"},
          "encoding": {
            "x": {"field": "angle", "type": "quantitative"},
            "y": {"field": "int", "type": "quantitative"}
          }
        }
      ]
    },
    {
      "width": 907,
      "height": 462,
      "layer": [
        {
          "data": {"name": "black"},
          "mark": {"type": "line", "strokeWidth": 1.7},
          "encoding": {
            "x": {"field": "angle", "type": "quantitative", "scale": {"domain": [15, 70], "nice": false},
              "axis": {"values": [15,17.5,20,22.5,25,27.5,30,32.5,35,37.5,40,42.5,45,47.5,50,52.5,55,57.5,60,62.5,65,67.5,70],
                "labelExpr": "datum.value % 5 === 0 ? datum.label : ''", "labelFontSize": 37, "labelColor": "black",
                "labelPadding": 31, "labelFlush": false, "labelOverlap": false,
                "title": "2θ", "titleFontSize": 40, "titleFontWeight": "bold", "titleColor": "black", "titlePadding": 16,
                "domain": false, "tickColor": "black", "tickWidth": 2.5,
                "tickSize": {"condition": {"test": "datum.value % 5 === 0", "value": -12}, "value": -6}}},
            "y": {"field": "int", "type": "quantitative", "scale": {"domain": [0, 462], "nice": false}, "axis": null},
            "color": {"field": "sample", "type": "nominal", "scale": {"domain": ["BioS"], "range": ["#000000"]},
              "legend": {"orient": "none", "legendX": 10, "legendY": 10, "title": null, "symbolType": "M-2.33,0H7.67", "symbolSize": 441,
                "symbolStrokeWidth": 1.5, "labelFontSize": 46, "labelFont": "Liberation Sans", "labelColor": "black", "labelOffset": 68,
                "labelLimit": 600, "padding": 8, "strokeColor": "#444444", "fillColor": "white"}}
          }
        },
        {
          "data": {"name": "starsBot"},
          "mark": {"type": "text", "text": "*", "fontSize": 42, "dy": 8, "color": "black"},
          "encoding": {
            "x": {"field": "angle", "type": "quantitative"},
            "y": {"field": "int", "type": "quantitative"}
          }
        }
      ]
    }
  ]
}
